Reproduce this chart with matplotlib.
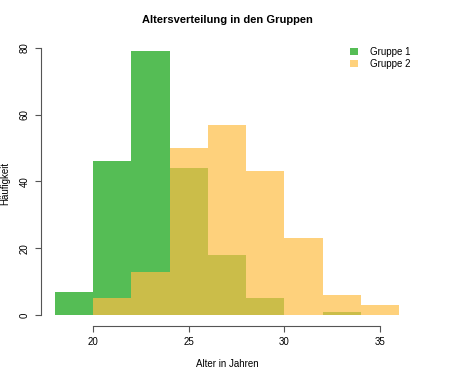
import numpy as np
import matplotlib.pyplot as plt

# Histogramm-Daten (Klassenbreite 2 Jahre)
bin_edges = [18, 20, 22, 24, 26, 28, 30, 32, 34, 36]
gruppe1 = [7, 46, 79, 44, 18, 5, 0, 1, 0]
gruppe2 = [0, 5, 13, 50, 57, 43, 23, 6, 3]
x_ticks = [20, 25, 30, 35]
y_ticks = [0, 20, 40, 60, 80]

plt.rcParams['font.family'] = ['Liberation Sans', 'DejaVu Sans']

fig = plt.figure(figsize=(4.74, 3.77), dpi=100)
ax = fig.add_axes([41 / 474, 1 - 325.5 / 377, (413 - 41) / 474, (325.5 - 40.8) / 377])

left = bin_edges[:-1]
width = np.diff(bin_edges)
ax.bar(left, gruppe1, width=width, align='edge', color='#55BD55', linewidth=0, label='Gruppe 1')
ax.bar(left, gruppe2, width=width, align='edge', color=(254 / 255, 190 / 255, 68 / 255), alpha=0.7,
       linewidth=0, label='Gruppe 2')

ax.set_xlim(17.28, 36.72)
ax.set_ylim(-3.16, 82.16)

for s in ['top', 'right']:
    ax.spines[s].set_visible(False)
ax.spines['left'].set_bounds(0, 80)
ax.spines['bottom'].set_bounds(20, 35)
for s in ['left', 'bottom']:
    ax.spines[s].set_color('#555555')
    ax.spines[s].set_linewidth(0.8)

ax.set_xticks(x_ticks)
ax.set_yticks(y_ticks)
ax.tick_params(axis='both', length=4, width=0.8, color='#555555', labelsize=7, pad=4)
for lbl in ax.get_yticklabels():
    lbl.set_rotation(90)
    lbl.set_va('center')

ax.set_title('Altersverteilung in den Gruppen', fontsize=8, fontweight='bold', pad=13)
ax.set_xlabel('Alter in Jahren', fontsize=7, labelpad=9)
ax.set_ylabel('Häufigkeit', fontsize=7)
ax.yaxis.set_label_coords(-0.082, 0.5)

ax.legend(loc='upper right', bbox_to_anchor=(1.016, 1.01), frameon=False, fontsize=7,
          handlelength=0.8, handleheight=0.8, handletextpad=1.2, labelspacing=0.2)

fig.savefig('out.png', dpi=100)
